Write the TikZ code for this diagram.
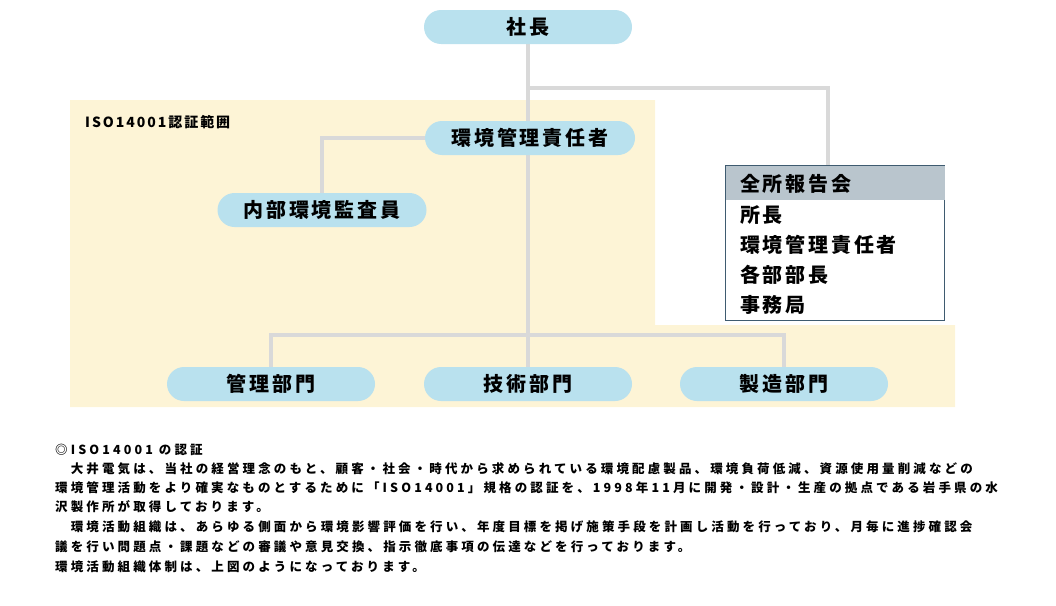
\documentclass[tikz,border=0pt]{standalone}
\usepackage{fontspec}
\newfontfamily\cjk{Noto Sans CJK JP}[LetterSpace=14]
\newfontfamily\cjkt{Noto Sans CJK JP}[LetterSpace=25]
\usetikzlibrary{positioning}
\pgfdeclarelayer{background}
\pgfsetlayers{background,main}
\definecolor{pillblue}{HTML}{B9E1EE}
\definecolor{scope}{HTML}{FDF4D6}
\definecolor{linegray}{HTML}{D9D9D9}
\definecolor{boxedge}{HTML}{3F5B70}
\definecolor{boxhead}{HTML}{B9C5CD}
\tikzset{
  pill/.style={fill=pillblue, rounded corners=17pt, minimum width=208pt, minimum height=34pt, inner sep=0pt, font=\cjk\bfseries\fontsize{20}{20}\selectfont},
  link/.style={draw=linegray, line width=4pt},
  member/.style={anchor=west, inner sep=0pt, font=\cjk\bfseries\fontsize{20}{20}\selectfont},
  body/.style={anchor=west, inner sep=0pt, font=\cjkt\bfseries\fontsize{12.5}{12.5}\selectfont}
}
\begin{document}
\begin{tikzpicture}[x=1pt,y=-1pt]
\useasboundingbox (0,0) rectangle (1056,605);
\begin{pgfonlayer}{background}
\fill[scope] (70,100) -- (655,100) -- (655,325) -- (955,325) -- (955,407) -- (70,407) -- cycle;
\end{pgfonlayer}
\node[anchor=west, inner sep=0pt, font=\cjk\bfseries\fontsize{14}{14}\selectfont] (scopelabel) at (85,122) {ISO14001認証範囲};
%
\node[pill] (president) at (528,27) {社長};
\node[pill, minimum width=210pt] (manager) at (530,138) {環境管理責任者};
\node[pill, minimum width=209pt] (auditor) at (322,210) {内部環境監査員};
\node[pill] (admin) at (271,384) {管理部門};
\node[pill] (tech) at (528,384) {技術部門};
\node[pill] (mfg) at (784,384) {製造部門};
%
\node[draw=boxedge, fill=white, line width=1pt, minimum width=219pt, minimum height=155pt, anchor=north west, inner sep=0pt] (meeting) at (725,165) {};
\fill[boxhead] ([shift={(0.5pt,-0.5pt)}]meeting.north west) rectangle ([shift={(-0.5pt,-35pt)}]meeting.north east);
\node[member] (meetingtitle) at (740,184) {全所報告会};
\node[member] (m1) at (740,215) {所長};
\node[member] (m2) at (740,245) {環境管理責任者};
\node[member] (m3) at (740,275) {各部部長};
\node[member] (m4) at (740,305) {事務局};
%
\coordinate (split) at (528,88);
\coordinate (bus) at (528,335);
\begin{pgfonlayer}{background}
\draw[link] (president.south) -- (manager.north -| president.south);
\draw[link] (manager.south -| president.south) -- (bus) -- (tech.north);
\draw[link] (split) -| (meeting.north -| 828,0);
\draw[link] (manager.west) -| (auditor.north);
\draw[link] (bus) -| (admin.north);
\draw[link] (bus) -| (mfg.north);
\end{pgfonlayer}
%
\node[body] (t0) at (55,450) {◎ISO14001 の認証};
\node[body] (t1) at (55,469) {　大井電気は、当社の経営理念のもと、顧客・社会・時代から求められている環境配慮製品、環境負荷低減、資源使用量削減などの};
\node[body] (t2) at (55,488) {環境管理活動をより確実なものとするために「ISO14001」規格の認証を、1998年11月に開発・設計・生産の拠点である岩手県の水};
\node[body] (t3) at (55,507) {沢製作所が取得しております。};
\node[body] (t4) at (55,527) {　環境活動組織は、あらゆる側面から環境影響評価を行い、年度目標を掲げ施策手段を計画し活動を行っており、月毎に進捗確認会};
\node[body] (t5) at (55,547) {議を行い問題点・課題などの審議や意見交換、指示徹底事項の伝達などを行っております。};
\node[body] (t6) at (55,567) {環境活動組織体制は、上図のようになっております。};
\end{tikzpicture}
\end{document}
